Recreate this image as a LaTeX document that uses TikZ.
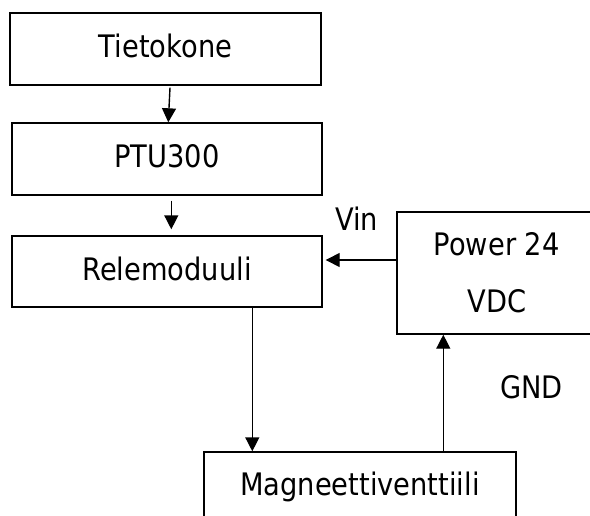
\documentclass[tikz,border=0pt]{standalone}
\usepackage{fontspec}
\setmainfont{DejaVu Sans}[FakeStretch=0.88]
\usetikzlibrary{arrows.meta}
\tikzset{
  box/.style={draw, line width=1.4pt, inner sep=0pt, text height=20pt, text depth=3pt},
  lbl/.style={inner sep=0pt, anchor=base},
  arr/.style={line width=1.4pt, -{Triangle[length=14pt,width=14pt]}}
}
\begin{document}
\begin{tikzpicture}[x=1pt,y=-1pt,font=\fontsize{31}{36}\selectfont]
\useasboundingbox (0,0) rectangle (590,515);
\clip (0,0) rectangle (590,515);
\fill[white] (0,0) rectangle (590,515);
\node[box, minimum width=311pt, minimum height=72pt] (t) at (165.5,49) {Tietokone};
\node[box, minimum width=310pt, minimum height=72pt] (p) at (167,159) {PTU300};
\node[box, minimum width=310pt, minimum height=71pt] (r) at (167,271.5) {Relemoduuli};
\node[box, minimum width=203pt, minimum height=122pt] (pw) at (498.5,273) {};
\node[box, minimum width=312pt, minimum height=69pt] (m) at (360,486.5) {Magneettiventtiili};
\node[lbl] (pw1) at (496.7,255) {Power 24};
\node[lbl] (pw2) at (496.7,312) {VDC};
\node[lbl] (vin) at (356.5,230) {Vin};
\node[lbl] (gnd) at (531.5,398) {GND};
\draw[arr] ([xshift=160.7pt,yshift=-2pt]t.south west) -- ([xshift=157pt]p.north west);
\draw[arr] ([xshift=160pt,yshift=-5pt]p.south west) -- ([xshift=160pt,yshift=6pt]r.north west);
\draw[arr] ([xshift=241pt]r.south west) -- ([xshift=241pt]r.south west |- m.north);
\draw[arr, shorten >=3pt] ([yshift=13pt]pw.west) -- ([yshift=13pt]pw.west -| r.east);
\draw[arr] ([xshift=240pt]m.north west) -- ([xshift=240pt]m.north west |- pw.south);
\end{tikzpicture}
\end{document}
